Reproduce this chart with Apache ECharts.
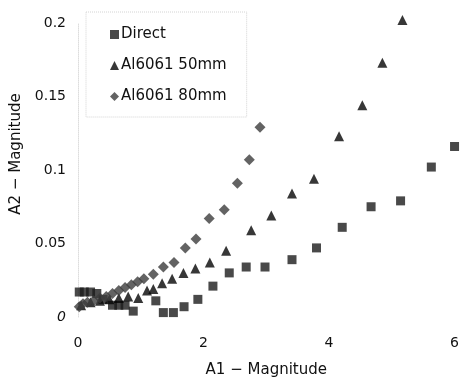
<!DOCTYPE html>
<html>
<head>
<meta charset="utf-8">
<script src="https://cdn.jsdelivr.net/npm/echarts@6/dist/echarts.min.js"></script>
<style>
  html, body { margin: 0; padding: 0; background: #fff; }
  #chart { width: 462px; height: 383px; }
</style>
</head>
<body>
<div id="chart"></div>
<script>
// [A1, A2] pairs
const direct = [
  [0.02, 0.017], [0.1, 0.017], [0.2, 0.017], [0.3, 0.016], [0.4, 0.012],
  [0.55, 0.008], [0.65, 0.008], [0.75, 0.008], [0.88, 0.004], [1.24, 0.011],
  [1.36, 0.003], [1.52, 0.003], [1.69, 0.007], [1.91, 0.012], [2.15, 0.021],
  [2.41, 0.030], [2.68, 0.034], [2.98, 0.034], [3.41, 0.039], [3.80, 0.047],
  [4.21, 0.061], [4.67, 0.075], [5.14, 0.079], [5.63, 0.102], [6.0, 0.116]
]
const al50 = [
  [0.05, 0.008], [0.2, 0.010], [0.35, 0.011], [0.5, 0.012], [0.65, 0.013],
  [0.8, 0.014], [0.96, 0.013], [1.1, 0.018], [1.2, 0.019], [1.34, 0.023],
  [1.5, 0.026], [1.68, 0.030], [1.87, 0.033], [2.1, 0.037], [2.36, 0.045],
  [2.76, 0.059], [3.08, 0.069], [3.41, 0.084], [3.76, 0.094], [4.16, 0.123],
  [4.53, 0.144], [4.85, 0.173], [5.17, 0.202]
]
const al80 = [
  [0.02, 0.007], [0.08, 0.009], [0.15, 0.010], [0.25, 0.011], [0.35, 0.013],
  [0.45, 0.014], [0.55, 0.016], [0.65, 0.018], [0.75, 0.020], [0.85, 0.022],
  [0.95, 0.024], [1.05, 0.026], [1.2, 0.029], [1.36, 0.034], [1.53, 0.037],
  [1.71, 0.047], [1.88, 0.053], [2.09, 0.067], [2.33, 0.073], [2.54, 0.091],
  [2.73, 0.107], [2.90, 0.129]
]
const seriesNames = ['Direct', 'Al6061 50mm', 'Al6061 80mm']

const chart = echarts.init(document.getElementById('chart'))
const font = 'DejaVu Sans, Liberation Sans, sans-serif'

const option = {
  backgroundColor: '#fff',
  textStyle: { fontFamily: font },
  grid: { left: 78, right: 7, top: 23, bottom: 60 },
  legend: {
    orient: 'vertical',
    left: 86,
    top: 12,
    data: seriesNames,
    itemWidth: 9,
    itemHeight: 9,
    itemGap: 16,
    padding: [15, 20, 13, 24],
    borderColor: '#d4d4d4',
    borderWidth: 1,
    borderType: 'dotted',
    textStyle: { fontFamily: font, fontSize: 15, color: '#111', padding: [0, 0, 0, -3] }
  },
  xAxis: {
    type: 'value',
    min: 0,
    max: 6,
    interval: 2,
    name: 'A1 \u2212 Magnitude',
    nameLocation: 'middle',
    nameGap: 46,
    nameTextStyle: { fontFamily: font, fontSize: 15, color: '#111' },
    axisLine: { show: false },
    axisTick: { show: false },
    splitLine: { show: false },
    axisLabel: { margin: 19, fontSize: 14, color: '#111', fontFamily: font }
  },
  yAxis: {
    type: 'value',
    min: 0,
    max: 0.2,
    interval: 0.05,
    name: 'A2 \u2212 Magnitude',
    nameLocation: 'middle',
    nameGap: 54,
    nameTextStyle: { fontFamily: font, fontSize: 15, color: '#111', padding: [0, 0, 0, 32] },
    axisLine: { show: true, lineStyle: { color: '#dddddd', type: 'dotted' } },
    axisTick: { show: false },
    splitLine: { show: false },
    axisLabel: {
      margin: 12,
      fontSize: 14,
      color: '#111',
      fontFamily: font,
      formatter: v => (v === 0 ? '{i|0}' : String(v)),
      rich: { i: { fontStyle: 'italic', fontSize: 14, color: '#111', fontFamily: font } }
    }
  },
  series: [
    {
      name: seriesNames[0],
      type: 'scatter',
      clip: false,
      symbol: 'rect',
      symbolSize: 9,
      itemStyle: { color: '#1c1c1c' },
      data: direct
    },
    {
      name: seriesNames[1],
      type: 'scatter',
      clip: false,
      symbol: 'triangle',
      symbolSize: 10,
      itemStyle: { color: '#050505' },
      data: al50
    },
    {
      name: seriesNames[2],
      type: 'scatter',
      clip: false,
      symbol: 'diamond',
      symbolSize: 11,
      itemStyle: { color: '#3c3c3c' },
      data: al80
    }
  ]
}

chart.setOption(option)
</script>
</body>
</html>
